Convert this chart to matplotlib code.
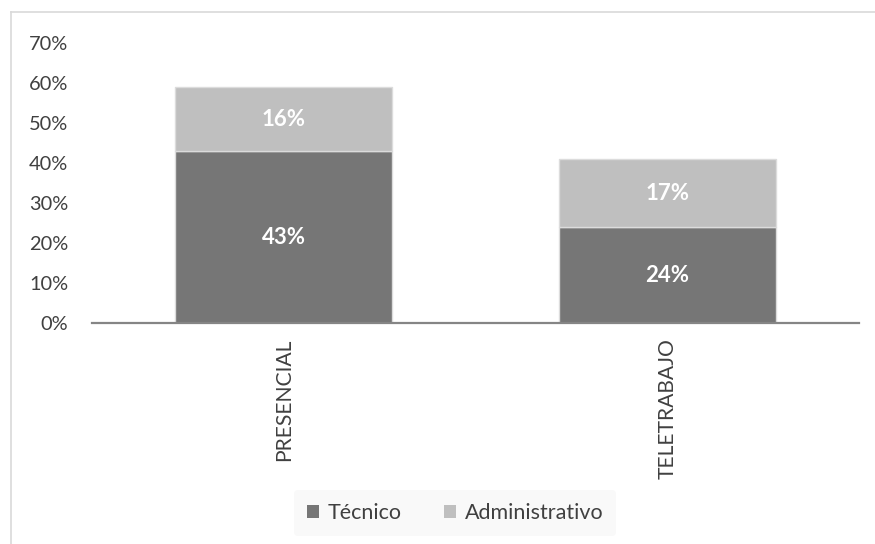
import matplotlib
matplotlib.use("Agg")
import matplotlib.pyplot as plt
from matplotlib.lines import Line2D
from matplotlib.patches import Patch

categories = ["PRESENCIAL", "TELETRABAJO"]
tecnico = [0.43, 0.24]
administrativo = [0.16, 0.17]
series_names = ["Técnico", "Administrativo"]
yticks = [0, 0.1, 0.2, 0.3, 0.4, 0.5, 0.6, 0.7]
ytick_labels = ["0%", "10%", "20%", "30%", "40%", "50%", "60%", "70%"]

plt.rcParams['font.family'] = ['Lato', 'DejaVu Sans']
W, H = 875, 544
fig = plt.figure(figsize=(W / 100, H / 100), dpi=100)
ax = fig.add_axes([92 / W, 1 - 323 / H, (859 - 92) / W, (323 - 43) / H])

dark = '#767676'
light = '#bfbfbf'
text_c = '#404040'
x = list(range(len(categories)))
bw = 0.566
ax.bar(x, tecnico, bw, color=dark, edgecolor='#dcdcdc', linewidth=1.0, zorder=2)
ax.bar(x, administrativo, bw, bottom=tecnico, color=light, edgecolor='#dcdcdc', linewidth=1.0, zorder=2)

for i in x:
    ax.text(i, tecnico[i] / 2, f"{round(tecnico[i]*100)}%", ha='center', va='center',
            color='white', fontsize=16, fontweight='bold', zorder=3)
    ax.text(i, tecnico[i] + administrativo[i] / 2, f"{round(administrativo[i]*100)}%",
            ha='center', va='center', color='white', fontsize=16, fontweight='bold', zorder=3)

ax.set_xlim(-0.5, 1.5)
ax.set_ylim(0, 0.7)
ax.set_yticks(yticks)
ax.set_yticklabels(ytick_labels, fontsize=14.4, color=text_c)
ax.set_xticks(x)
ax.set_xticklabels(categories, rotation=90, fontsize=15.2, color=text_c, va='top')
ax.tick_params(axis='both', length=0)
ax.tick_params(axis='y', pad=17)
ax.tick_params(axis='x', pad=11)
for s in ['top', 'right', 'left']:
    ax.spines[s].set_visible(False)
ax.spines['bottom'].set_color('#858585')
ax.spines['bottom'].set_linewidth(1.6)
ax.spines['bottom'].set_zorder(4)

# outer chart border (partially visible)
fig.add_artist(Line2D([10.5 / W, 10.5 / W], [0, 1 - 12 / H], transform=fig.transFigure,
                      color='#d9d9d9', linewidth=1.2))
fig.add_artist(Line2D([10.5 / W, 1], [1 - 12 / H, 1 - 12 / H], transform=fig.transFigure,
                      color='#d9d9d9', linewidth=1.2))

handles = [Patch(facecolor=dark, edgecolor='none'), Patch(facecolor=light, edgecolor='none')]
leg = fig.legend(handles, series_names, loc='center', bbox_to_anchor=(455 / W, 1 - 513 / H),
                 ncol=2, frameon=True, fontsize=15.5, handlelength=0.55, handleheight=0.55,
                 handletextpad=0.4, columnspacing=2.0, borderpad=0.6, labelcolor=text_c)
leg.get_frame().set_facecolor('#f9f9f9')
leg.get_frame().set_edgecolor('none')
leg.get_frame().set_alpha(1)

fig.savefig("out.png", dpi=100)
